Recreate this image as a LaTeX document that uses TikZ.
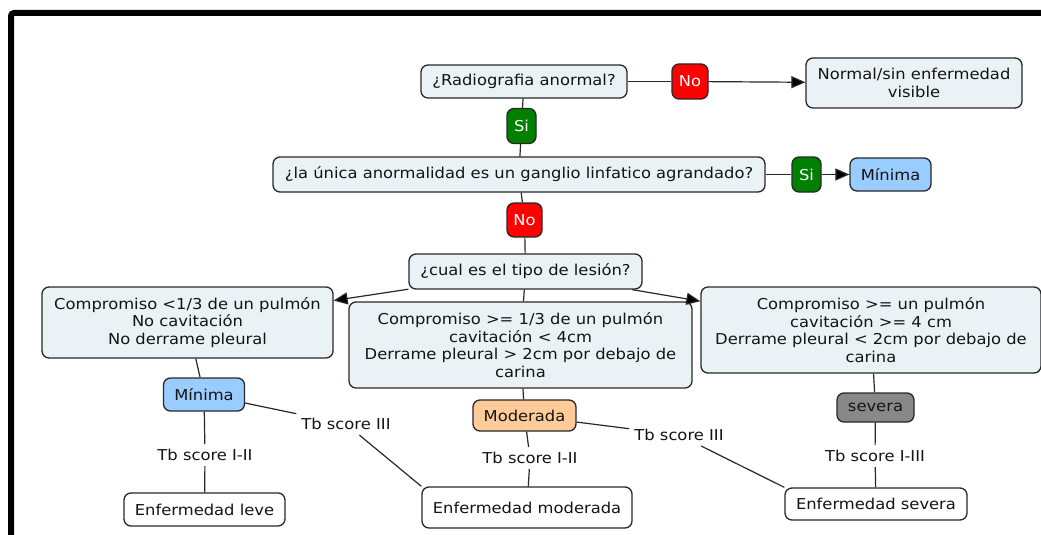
\documentclass[tikz,border=0pt]{standalone}
\usepackage{fontspec}
\setmainfont[FakeStretch=1.09]{DejaVu Sans}
\usetikzlibrary{arrows.meta}
\definecolor{boxfill}{RGB}{235,242,245}
\definecolor{redbox}{RGB}{255,0,0}
\definecolor{greenbox}{RGB}{0,128,0}
\definecolor{bluebox}{RGB}{153,204,255}
\definecolor{orangebox}{RGB}{255,204,153}
\definecolor{graybox}{RGB}{136,136,136}
\definecolor{edge}{RGB}{40,40,40}
\definecolor{txt}{RGB}{20,20,20}
\tikzset{
  base/.style={draw=edge, line width=1.3pt, rounded corners=7pt, inner sep=0pt, align=center, text=txt},
  concept/.style={base, fill=boxfill},
  result/.style={base, fill=white},
  yesbox/.style={base, fill=greenbox, text=white},
  nobox/.style={base, fill=redbox, text=white},
  minbox/.style={base, fill=bluebox},
  modbox/.style={base, fill=orangebox},
  sevbox/.style={base, fill=graybox},
  lbl/.style={inner sep=5pt, text=txt},
  conn/.style={draw=edge, line width=1.2pt},
  arr/.style={conn, -{Triangle[length=14pt,width=12pt,fill=black]}},
}
\begin{document}
\begin{tikzpicture}[x=1pt,y=-1pt, font=\fontsize{15}{17.7}\selectfont]
\useasboundingbox (0,0) rectangle (1041,535);
\clip (0,0) rectangle (1041,535);
\fill[white] (0,0) rectangle (1041,535);
\draw[line width=6pt, rounded corners=3pt] (11,545) -- (11,13) -- (1050,13);

\node[concept, minimum width=206pt, minimum height=33pt] (rad) at (524,81.5) {¿Radiografia anormal?};
\node[nobox, minimum width=36pt, minimum height=35pt] (no1) at (690,81.5) {No};
\node[concept, minimum width=216pt, minimum height=50pt] (normal) at (914,83) {Normal/sin enfermedad\\visible};
\node[yesbox, minimum width=29pt, minimum height=35pt] (si1) at (521.5,126) {Si};
\node[concept, minimum width=492pt, minimum height=35pt] (unica) at (519,174.5) {¿la única anormalidad es un ganglio linfatico agrandado?};
\node[yesbox, minimum width=29pt, minimum height=35pt] (si2) at (806.5,174.5) {Si};
\node[minbox, minimum width=81pt, minimum height=33pt] (min1) at (890.5,174.5) {Mínima};
\node[nobox, minimum width=35pt, minimum height=34pt] (no2) at (524.5,220) {No};
\node[concept, minimum width=233pt, minimum height=35pt] (cual) at (525.5,271.5) {¿cual es el tipo de lesión?};
\node[concept, minimum width=291pt, minimum height=71pt] (left) at (187.5,322.5) {Compromiso <1/3 de un pulmón\\No cavitación\\No derrame pleural};
\node[concept, minimum width=343pt, minimum height=86pt] (mid) at (520.5,345) {Compromiso >= 1/3 de un pulmón\\cavitación < 4cm\\Derrame pleural > 2cm por debajo de\\carina};
\node[concept, minimum width=340pt, minimum height=86pt] (right) at (871,330) {Compromiso >= un pulmón\\cavitación >= 4 cm\\Derrame pleural < 2cm por debajo de\\carina};
\node[minbox, minimum width=81pt, minimum height=33pt] (min2) at (204,394.5) {Mínima};
\node[modbox, minimum width=103pt, minimum height=31pt] (mod) at (524.5,415.5) {Moderada};
\node[sevbox, minimum width=77pt, minimum height=29pt] (sev) at (875.5,407.5) {severa};
\node[result, minimum width=161pt, minimum height=33pt] (leve) at (204.5,509.5) {Enfermedad leve};
\node[result, minimum width=210pt, minimum height=41pt] (enfmod) at (527,507.5) {Enfermedad moderada};
\node[result, minimum width=182pt, minimum height=32pt] (enfsev) at (876,504) {Enfermedad severa};

\node[lbl] (la1) at (205,455) {Tb score I-II};
\node[lbl] (la2) at (346,424) {Tb score III};
\node[lbl] (lb1) at (530,458) {Tb score I-II};
\node[lbl] (lb2) at (679,435) {Tb score III};
\node[lbl] (lc1) at (875,456) {Tb score I-III};

\draw[conn] (rad) -- (no1);
\draw[arr] (no1) -- (normal);
\draw[conn] (rad) -- (si1);
\draw[conn] (si1) -- (unica);
\draw[conn] (unica) -- (si2);
\draw[arr] (si2) -- (min1);
\draw[conn] (unica) -- (no2);
\draw[conn] (no2) -- (cual);
\draw[arr] (cual) -- (left);
\draw[conn] (cual) -- (mid);
\draw[arr] (cual) -- (right);
\draw[conn] (left) -- (min2);
\draw[conn] (min2) -- (la1);
\draw[conn] (la1) -- (leve);
\draw[conn] (min2) -- (la2);
\draw[conn] (la2) -- (enfmod.north west);
\draw[conn] (mid) -- (mod);
\draw[conn] (mod) -- (lb1);
\draw[conn] (lb1) -- (enfmod);
\draw[conn] (mod) -- (lb2);
\draw[conn] (lb2) -- (enfsev.north west);
\draw[conn] (right) -- (sev);
\draw[conn] (sev) -- (lc1);
\draw[conn] (lc1) -- (enfsev);
\end{tikzpicture}
\end{document}
